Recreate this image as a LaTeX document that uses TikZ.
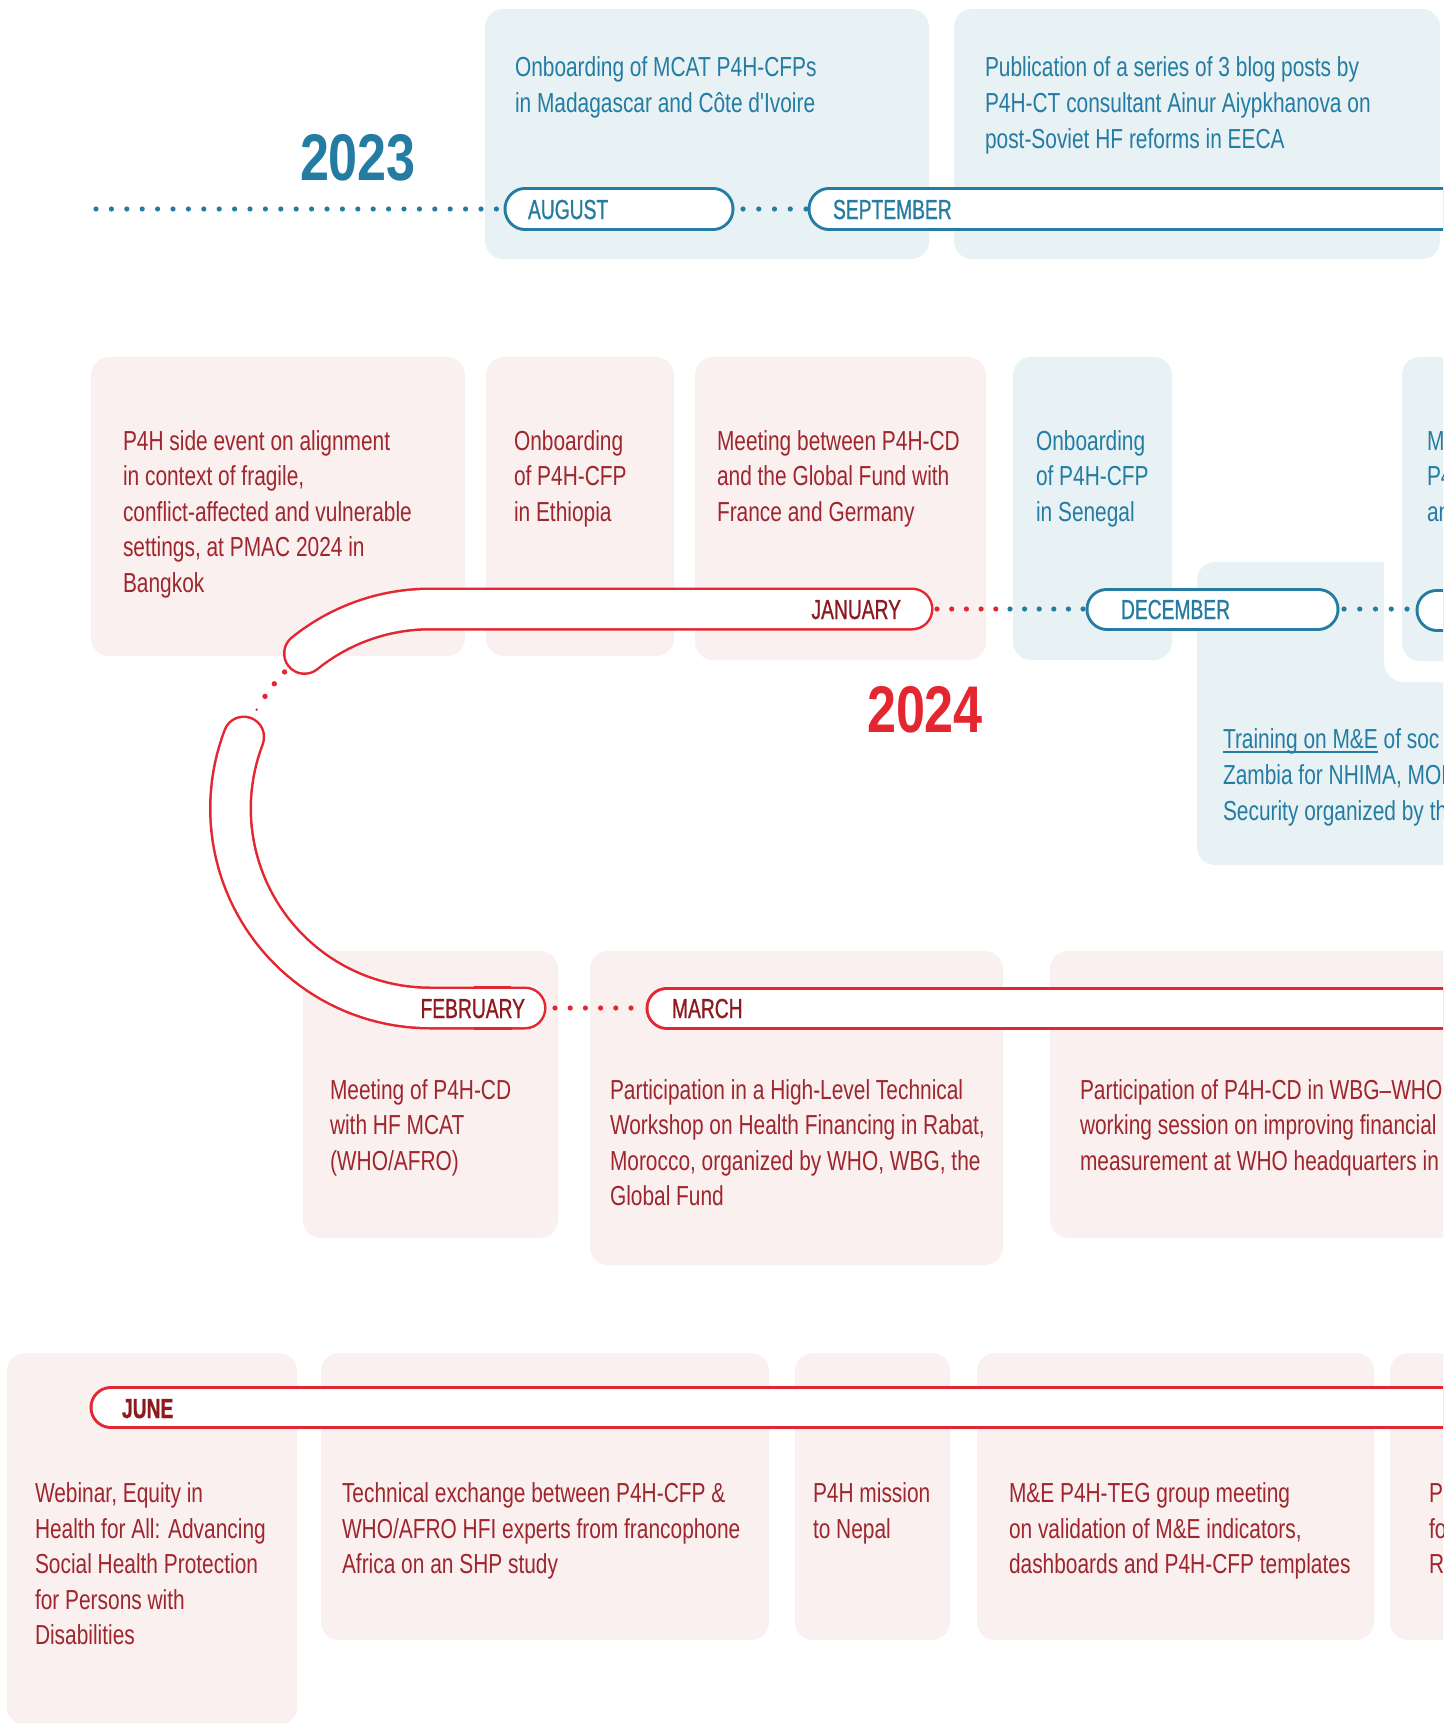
\documentclass[tikz,border=0pt]{standalone}
\usepackage{fontspec}
\newfontfamily\bodyfam[FakeStretch=0.76]{Liberation Sans}
\newfontfamily\monfam[FakeStretch=0.70,FakeBold=0.8]{Liberation Sans}
\newfontfamily\yearfam[FakeStretch=0.79]{Liberation Sans}
\newcommand\bodyf{\bodyfam\fontsize{27.5}{36}\selectfont}
\newcommand\monf{\monfam\fontsize{27.5}{36}\selectfont}
\newcommand\yearf{\yearfam\bfseries\fontsize{66}{70}\selectfont}
\definecolor{cblue}{RGB}{36,124,163}
\definecolor{cboxb}{RGB}{232,241,244}
\definecolor{cred}{RGB}{227,38,47}
\definecolor{ctxt}{RGB}{158,38,45}
\definecolor{cmon}{RGB}{140,26,32}
\definecolor{cboxr}{RGB}{251,240,240}
\begin{document}
\begin{tikzpicture}[x=1pt,y=-1pt,
  bluebox/.style={fill=cboxb, rounded corners=18pt},
  redbox/.style={fill=cboxr, rounded corners=18pt},
  btxt/.style={anchor=base west, inner sep=0pt, outer sep=0pt, text=cblue, font=\bodyf},
  rtxt/.style={anchor=base west, inner sep=0pt, outer sep=0pt, text=ctxt, font=\bodyf},
  bmon/.style={anchor=base west, inner sep=0pt, outer sep=0pt, text=cblue, font=\monf},
  rmon/.style={anchor=base west, inner sep=0pt, outer sep=0pt, text=cmon, font=\monf},
  pillout/.style={line width=43pt, line cap=round, line join=round},
  pillin/.style={draw=white, line width=37pt, line cap=round, line join=round},
  tubein/.style={draw=white, line width=38pt, line cap=round, line join=round},
  bdots/.style={draw=cblue, line width=5.2pt, line cap=round, dash pattern=on 0pt off 15.4pt},
  rdots/.style={draw=cred, line width=5.2pt, line cap=round, dash pattern=on 0pt off 15.4pt}]
\useasboundingbox (0,0) rectangle (1443,1723);
\clip (0,0) rectangle (1443,1723);

% ---------- boxes ----------
\fill[bluebox] (485,9) rectangle (929,259);
\fill[bluebox] (954,9) rectangle (1440,259);
\fill[redbox] (91,357) rectangle (465,656);
\fill[redbox] (486,357) rectangle (674,656);
\fill[redbox] (695,357) rectangle (986,660);
\fill[bluebox] (1013,357) rectangle (1172,660);
\fill[bluebox] (1197,562) rectangle (1480,865);
\fill[white, rounded corners=20pt] (1384,330) rectangle (1480,682);
\fill[bluebox] (1402,357) rectangle (1480,661);
\fill[redbox] (303,951) rectangle (558,1238);
\fill[redbox] (590,951) rectangle (1003,1265);
\fill[redbox] (1050,951) rectangle (1480,1238);
\fill[redbox] (7,1353) rectangle (297,1725);
\fill[redbox] (321,1353) rectangle (769,1640);
\fill[redbox] (795,1353) rectangle (950,1640);
\fill[redbox] (977,1353) rectangle (1374,1640);
\fill[redbox] (1390,1353) rectangle (1480,1640);

% ---------- coordinates ----------
\coordinate (d23a) at (96,209);   \coordinate (d23b) at (500,209);
\coordinate (augL) at (525,209);  \coordinate (augR) at (713,209);
\coordinate (dasA) at (743,209);  \coordinate (dasB) at (806,209);
\coordinate (sepL) at (829,209);  \coordinate (sepR) at (1480,209);
\coordinate (janR) at (912,609);  \coordinate (janC) at (430,609);
\coordinate (djrA) at (937,609);  \coordinate (djrB) at (996,609);
\coordinate (djbA) at (1010,609); \coordinate (djbB) at (1084,609);
\coordinate (decL) at (1107,609); \coordinate (decR) at (1318,609);
\coordinate (ddA) at (1344,609);  \coordinate (ddB) at (1408,609);
\coordinate (nxtL) at (1437,610); \coordinate (nxtR) at (1480,610);
\coordinate (febR) at (525,1008);
\coordinate (dfmA) at (555,1008); \coordinate (dfmB) at (631,1008);
\coordinate (marL) at (667,1008); \coordinate (marR) at (1480,1008);
\coordinate (junL) at (111,1407.5); \coordinate (junR) at (1480,1407.5);

% ---------- dotted connectors ----------
\draw[bdots] (d23a) -- (d23b);
\draw[bdots, dash pattern=on 0pt off 15.75pt] (dasA) -- (dasB);
\draw[rdots, dash pattern=on 0pt off 14.7pt] (djrA) -- (djrB);
\draw[bdots, dash pattern=on 0pt off 14.6pt] (djbA) -- (djbB);
\draw[bdots, dash pattern=on 0pt off 15.75pt] (ddA) -- (ddB);
\draw[rdots, dash pattern=on 0pt off 15.2pt] (dfmA) -- (dfmB);
\foreach \ang/\rr in {223.2/2.7, 218.7/2.7, 214.2/2.7, 209.7/1.3}
  \fill[cred] ({430+199.5*cos(\ang)},{808.5+199.5*sin(\ang)}) circle[radius=\rr];

% ---------- pills ----------
\draw[pillout, cblue] (augL) -- (augR);  \draw[pillin] (augL) -- (augR);
\draw[pillout, cblue] (sepL) -- (sepR);  \draw[pillin] (sepL) -- (sepR);
\draw[pillout, cblue] (decL) -- (decR);  \draw[pillin] (decL) -- (decR);
\draw[pillout, cblue] (nxtL) -- (nxtR);  \draw[pillin] (nxtL) -- (nxtR);
\draw[pillout, cred] (marL) -- (marR);   \draw[pillin] (marL) -- (marR);
\draw[pillout, cred] (junL) -- (junR);   \draw[pillin] (junL) -- (junR);

% curved tube (January -> February)
\draw[pillout, cred] (janR) -- (janC) -- plot[domain=270:231, samples=30, variable=\ang] ({430+199.5*cos(\ang)},{808.5+199.5*sin(\ang)});
\draw[tubein] (janR) -- (janC) -- plot[domain=270:231, samples=30, variable=\ang] ({430+199.5*cos(\ang)},{808.5+199.5*sin(\ang)});
\draw[pillout, cred] plot[domain=201:90, samples=50, variable=\ang] ({430+199.5*cos(\ang)},{808.5+199.5*sin(\ang)}) -- (febR);
\draw[tubein] plot[domain=201:90, samples=50, variable=\ang] ({430+199.5*cos(\ang)},{808.5+199.5*sin(\ang)}) -- (febR);
\draw[cred, line width=3.5pt] (474,987.3) -- (511,987.3);
\draw[cred, line width=3.5pt] (474,1028.7) -- (512,1028.7);

% ---------- years ----------
\node[anchor=base, inner sep=0pt, text=cblue, font=\yearf] (y2023) at (358,181) {2023};
\node[anchor=base, inner sep=0pt, text=cred, font=\yearf] (y2024) at (925,732) {2024};

% ---------- month labels ----------
\node[bmon] (maug) at (528,219) {AUGUST};
\node[bmon] (msep) at (833,219) {SEPTEMBER};
\node[rmon, anchor=base east] (mjan) at (901,619) {JANUARY};
\node[bmon] (mdec) at (1121,619) {DECEMBER};
\node[rmon, anchor=base east] (mfeb) at (525,1018) {FEBRUARY};
\node[rmon] (mmar) at (672,1018) {MARCH};
\node[rmon, font=\monf\bfseries] (mjun) at (122,1418) {JUNE};

% ---------- texts ----------
\node[btxt] (a1l1) at (515,77) {Onboarding of MCAT P4H-CFPs};
\node[btxt] (a1l2) at (515,113) {in Madagascar and Côte d'Ivoire};

\node[btxt] (a2l1) at (985,77) {Publication of a series of 3 blog posts by};
\node[btxt] (a2l2) at (985,113) {P4H-CT consultant Ainur Aiypkhanova on};
\node[btxt] (a2l3) at (985,149) {post-Soviet HF reforms in EECA};

\node[rtxt] (b1l1) at (123,450) {P4H side event on alignment};
\node[rtxt] (b1l2) at (123,485.5) {in context of fragile,};
\node[rtxt] (b1l3) at (123,521) {conflict-affected and vulnerable};
\node[rtxt] (b1l4) at (123,556.5) {settings, at PMAC 2024 in};
\node[rtxt] (b1l5) at (123,592) {Bangkok};

\node[rtxt] (b2l1) at (514,450) {Onboarding};
\node[rtxt] (b2l2) at (514,485.5) {of P4H-CFP};
\node[rtxt] (b2l3) at (514,521) {in Ethiopia};

\node[rtxt] (b3l1) at (717,450) {Meeting between P4H-CD};
\node[rtxt] (b3l2) at (717,485.5) {and the Global Fund with};
\node[rtxt] (b3l3) at (717,521) {France and Germany};

\node[btxt] (b4l1) at (1036,450) {Onboarding};
\node[btxt] (b4l2) at (1036,485.5) {of P4H-CFP};
\node[btxt] (b4l3) at (1036,521) {in Senegal};

\node[btxt] (b5l1) at (1427,450) {M};
\node[btxt] (b5l2) at (1427,485.5) {P4};
\node[btxt] (b5l3) at (1427,521) {an};

\node[btxt] (b6u) at (1223,748) {Training on M\&E};
\draw[cblue, line width=1.5pt] ([yshift=-4pt]b6u.base west) -- ([yshift=-4pt]b6u.base east);
\node[btxt] (b6l1) at (b6u.base east) {\ of soc};
\node[btxt] (b6l2) at (1223,784) {Zambia for NHIMA, MOH};
\node[btxt] (b6l3) at (1223,820) {Security organized by the};

\node[rtxt] (b7l1) at (330,1099) {Meeting of P4H-CD};
\node[rtxt] (b7l2) at (330,1134.5) {with HF MCAT};
\node[rtxt] (b7l3) at (330,1170) {(WHO/AFRO)};

\node[rtxt] (b8l1) at (610,1099) {Participation in a High-Level Technical};
\node[rtxt] (b8l2) at (610,1134.5) {Workshop on Health Financing in Rabat,};
\node[rtxt] (b8l3) at (610,1170) {Morocco, organized by WHO, WBG, the};
\node[rtxt] (b8l4) at (610,1205.5) {Global Fund};

\node[rtxt] (b9l1) at (1080,1099) {Participation of P4H-CD in WBG–WHO};
\node[rtxt] (b9l2) at (1080,1134.5) {working session on improving financial};
\node[rtxt] (b9l3) at (1080,1170) {measurement at WHO headquarters in};

\node[rtxt] (c1l1) at (35,1502) {Webinar, Equity in};
\node[rtxt] (c1l2) at (35,1538) {Health for All: Advancing};
\node[rtxt] (c1l3) at (35,1573.5) {Social Health Protection};
\node[rtxt] (c1l4) at (35,1609) {for Persons with};
\node[rtxt] (c1l5) at (35,1644.5) {Disabilities};

\node[rtxt] (c2l1) at (342,1502) {Technical exchange between P4H-CFP \&};
\node[rtxt] (c2l2) at (342,1538) {WHO/AFRO HFI experts from francophone};
\node[rtxt] (c2l3) at (342,1573.5) {Africa on an SHP study};

\node[rtxt] (c3l1) at (813,1502) {P4H mission};
\node[rtxt] (c3l2) at (813,1538) {to Nepal};

\node[rtxt] (c4l1) at (1009,1502) {M\&E P4H-TEG group meeting};
\node[rtxt] (c4l2) at (1009,1538) {on validation of M\&E indicators,};
\node[rtxt] (c4l3) at (1009,1573.5) {dashboards and P4H-CFP templates};

\node[rtxt] (c5l1) at (1429,1502) {P};
\node[rtxt] (c5l2) at (1429,1538) {fo};
\node[rtxt] (c5l3) at (1429,1573.5) {R};
\end{tikzpicture}
\end{document}
